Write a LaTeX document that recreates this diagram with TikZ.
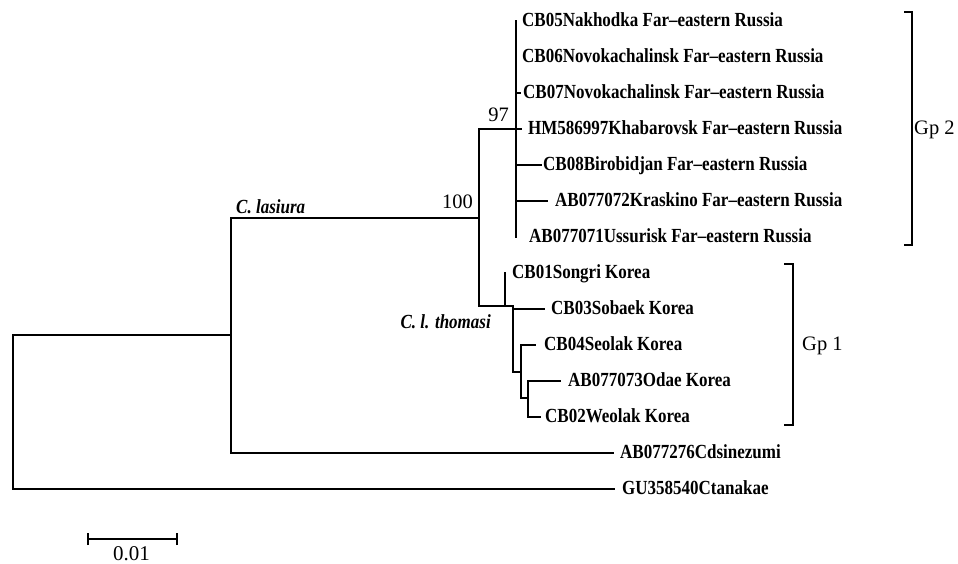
\documentclass[tikz,border=0pt]{standalone}
\usepackage{fontspec}
\setmainfont{Liberation Serif}
\newfontfamily\labfont[FakeStretch=0.85]{Liberation Serif}
\begin{document}
\begin{tikzpicture}[x=1pt,y=-1pt,
  br/.style={line width=1.2pt,line cap=rect},
  leaf/.style={anchor=west,inner sep=0pt,text height=13.2pt,text depth=0pt,font=\labfont\bfseries\fontsize{20}{22}\selectfont},
  boot/.style={inner sep=0pt,font=\fontsize{20.5}{22}\selectfont},
  clade/.style={inner sep=0pt,font=\labfont\fontsize{20}{22}\selectfont\bfseries\itshape},
  grp/.style={anchor=west,inner sep=0pt,font=\fontsize{20.5}{22}\selectfont}]
\useasboundingbox (0,0) rectangle (958,564);
% leaf tips (y = 21 + 36k)
\coordinate (t05) at (516,21);
\coordinate (t06) at (516,57);
\coordinate (t07) at (520,93);
\coordinate (tHM) at (521,129);
\coordinate (t08) at (541,165);
\coordinate (t72) at (547,201);
\coordinate (t71) at (516,237);
\coordinate (t01) at (505,273);
\coordinate (t03) at (544,309);
\coordinate (t04) at (535,345);
\coordinate (t73) at (560,381);
\coordinate (t02) at (540,417);
\coordinate (tCd) at (613,453);
\coordinate (tGU) at (614,489);
% internal nodes
\coordinate (root) at (13,411);
\coordinate (nL) at (231,335);
\coordinate (n100) at (479,218);
\coordinate (n97) at (516,129);
\coordinate (nT) at (505,306);
\coordinate (nA) at (513,340);
\coordinate (nB) at (521,372);
\coordinate (nC) at (528,398);
% branches
\draw[br] (nL) -| (root) |- (tGU);
\draw[br] (n100) -| (nL) |- (tCd);
\draw[br] (n97) -| (n100) |- (nT);
\draw[br] (n97 |- t05) -- (n97 |- t71);
\draw[br] (n97 |- t07) -- (t07);
\draw[br] (n97) -- (tHM);
\draw[br] (n97 |- t08) -- (t08);
\draw[br] (n97 |- t72) -- (t72);
\draw[br] (nT |- t01) -- (nT) -| (nA);
\draw[br] (nA |- t03) -- (t03);
\draw[br] (nA |- t03) -- (nA |- nB) -- (nB);
\draw[br] (nB |- t04) -- (t04);
\draw[br] (nB |- t04) -- (nB |- nC) -- (nC);
\draw[br] (nC |- t73) -- (t73);
\draw[br] (nC |- t73) -- (nC |- t02) -- (t02);
% leaf labels
\node[leaf] (l05) at (522,20) {CB05Nakhodka Far–eastern Russia};
\node[leaf] (l06) at (522,56) {CB06Novokachalinsk Far–eastern Russia};
\node[leaf] (l07) at (523,92) {CB07Novokachalinsk Far–eastern Russia};
\node[leaf] (lHM) at (528,128) {HM586997Khabarovsk Far–eastern Russia};
\node[leaf] (l08) at (543,164) {CB08Birobidjan Far–eastern Russia};
\node[leaf] (l72) at (555,200) {AB077072Kraskino Far–eastern Russia};
\node[leaf] (l71) at (529,236) {AB077071Ussurisk Far–eastern Russia};
\node[leaf] (l01) at (512,272) {CB01Songri Korea};
\node[leaf] (l03) at (551,308) {CB03Sobaek Korea};
\node[leaf] (l04) at (544,344) {CB04Seolak Korea};
\node[leaf] (l73) at (568,380) {AB077073Odae Korea};
\node[leaf] (l02) at (545,416) {CB02Weolak Korea};
\node[leaf] (lCd) at (620,452) {AB077276Cdsinezumi};
\node[leaf] (lGU) at (622,488) {GU358540Ctanakae};
% support values and clade names
\node[boot,anchor=east] (b97) at (509,115) {97};
\node[boot,anchor=east] (b100) at (473,202) {100};
\node[clade,anchor=west] (cl) at (236,207) {C. lasiura};
\node[clade,anchor=east] (ct) at (491,322) {C. l. thomasi};
% group brackets
\coordinate (g2t) at (904,12);
\coordinate (g2b) at (904,245);
\draw[line width=1.1pt] (g2t) -- ++(8,0) coordinate (g2tr) -- (g2tr |- g2b) -- (g2b);
\node[grp] (gp2) at (914,130) {Gp 2};
\coordinate (g1t) at (784,264);
\coordinate (g1b) at (784,425);
\draw[line width=1.1pt] (g1t) -- ++(9,0) coordinate (g1tr) -- (g1tr |- g1b) -- (g1b);
\node[grp] (gp1) at (802,346) {Gp 1};
% scale bar
\coordinate (s0) at (88,539);
\coordinate (s1) at (177,539);
\draw[line width=1.1pt] (s0) -- (s1);
\draw[line width=1.1pt] ([yshift=-6pt]s0) -- ([yshift=6pt]s0);
\draw[line width=1.1pt] ([yshift=-6pt]s1) -- ([yshift=6pt]s1);
\node[boot,anchor=north,font=\fontsize{21}{22}\selectfont] (sl) at (131.5,546) {0.01};
\end{tikzpicture}
\end{document}
